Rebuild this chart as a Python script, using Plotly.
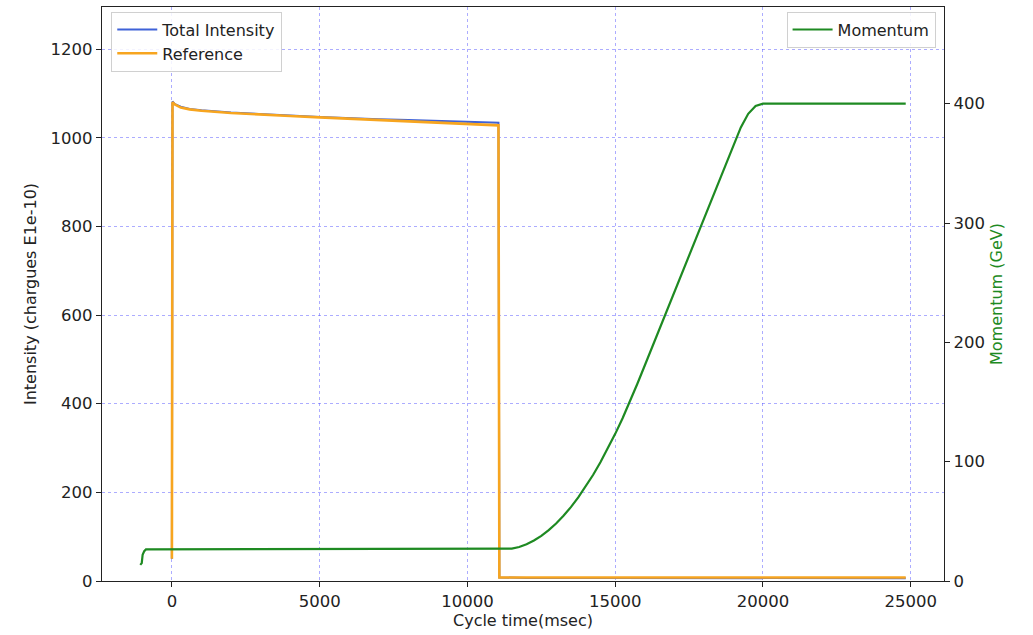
import plotly.graph_objects as go

# Beam intensity over the cycle (charges E1e-10)
total_t = [0, 20, 100, 300, 600, 1000, 2000, 3000, 4000, 5000, 6000, 7000,
           8000, 9000, 10000, 11000, 11050, 11080, 12000, 15000, 20000, 24830]
total_i = [50, 1082, 1076, 1070, 1065, 1062, 1057, 1053, 1050, 1047, 1044, 1042,
           1040, 1038, 1036, 1035, 1034, 8, 7, 7, 7, 6]

ref_t = [0, 20, 100, 300, 600, 1000, 2000, 3000, 4000, 5000, 6000, 7000,
         8000, 9000, 10000, 11000, 11050, 11080, 12000, 15000, 20000, 24830]
ref_i = [50, 1080, 1075, 1068, 1064, 1061, 1056, 1052, 1049, 1046, 1043, 1040,
         1037, 1034, 1031, 1029, 1028, 8, 8, 8, 8, 8]

# Beam momentum (GeV)
mom_t = [-1070, -1020, -990, -936, -878, 0, 5000, 10000, 11000, 11250, 11500,
         11750, 12000, 12250, 12500, 12750, 13000, 13250, 13500, 13750, 14000,
         14250, 14500, 14750, 15000, 15250, 15500, 15750, 16000, 16250, 16500,
         16750, 17000, 17250, 17500, 17750, 18000, 18250, 18500, 18750, 19000,
         19250, 19500, 19750, 20000, 22000, 24830]
mom_p = [13.5, 15, 22, 25, 26.5, 26.5, 26.5, 26.5, 26.5, 26.5, 27.1,
         28.5, 30.8, 33.9, 37.8, 42.6, 48.2, 54.7, 61.9, 70.1, 79.0,
         88.8, 99.5, 110.9, 123.3, 136.4, 150.4, 165.3, 180.6, 196.0, 211.4,
         226.7, 242.1, 257.4, 272.8, 288.2, 303.5, 318.9, 334.2, 349.6, 365.0,
         380.1, 391.5, 398.1, 400, 400, 400]

x_ticks = [0, 5000, 10000, 15000, 20000, 25000]
x_labels = ["0", "5000", "10000", "15000", "20000", "25000"]
left_ticks = [0, 200, 400, 600, 800, 1000, 1200]
right_ticks = [0, 100, 200, 300, 400]

FONT = "DejaVu Sans"
TICK_SIZE = 16.5
LABEL_SIZE = 16
INK = "#222"
GREEN = "#1e8a22"
GRID = "rgba(70,70,255,0.45)"

fig = go.Figure()
fig.add_trace(go.Scatter(x=total_t, y=total_i, mode="lines", name="Total Intensity",
                         line=dict(color="#3f62d8", width=2), legend="legend",
                         legendgroup="total"))
fig.add_trace(go.Scatter(x=ref_t, y=ref_i, mode="lines", name="Reference",
                         line=dict(color="#f7a51f", width=2.6), legend="legend",
                         legendgroup="ref"))
fig.add_trace(go.Scatter(x=mom_t, y=mom_p, mode="lines", name="Momentum",
                         line=dict(color=GREEN, width=2.2), yaxis="y2",
                         legend="legend2"))

axis_common = dict(showline=True, linecolor=INK, linewidth=1.2,
                   ticks="outside", ticklen=5, tickcolor=INK,
                   tickfont=dict(family=FONT, size=TICK_SIZE, color=INK),
                   zeroline=False)

fig.update_layout(
    width=1033, height=635,
    margin=dict(l=102, r=89, t=7, b=54),
    paper_bgcolor="white", plot_bgcolor="white",
    font=dict(family=FONT, size=LABEL_SIZE, color=INK),
    xaxis=dict(range=[-2365, 26125], tickvals=x_ticks, ticktext=x_labels, mirror=True,
               showgrid=True, gridcolor=GRID, griddash="dot", gridwidth=1,
               title=dict(text="Cycle time(msec)", standoff=4,
                          font=dict(family=FONT, size=LABEL_SIZE, color=INK)),
               **axis_common),
    yaxis=dict(range=[0, 1295], tickvals=left_ticks,
               showgrid=True, gridcolor=GRID, griddash="dot", gridwidth=1,
               title=dict(text="Intensity (chargues E1e-10)", standoff=9,
                          font=dict(family=FONT, size=LABEL_SIZE, color=INK)),
               **axis_common),
    yaxis2=dict(range=[0, 481], tickvals=right_ticks, overlaying="y", side="right",
                showgrid=False,
                title=dict(text="Momentum (GeV)", standoff=6,
                           font=dict(family=FONT, size=LABEL_SIZE, color=GREEN)),
                **axis_common),
    legend=dict(x=0.011, y=0.992, xanchor="left", yanchor="top",
                bgcolor="rgba(255,255,255,0.85)", bordercolor="#d0d0d0",
                borderwidth=1, itemwidth=40, traceorder="grouped",
                tracegroupgap=0,
                font=dict(family=FONT, size=LABEL_SIZE, color=INK)),
    legend2=dict(x=0.99, y=0.992, xanchor="right", yanchor="top",
                 bgcolor="rgba(255,255,255,0.85)", bordercolor="#d0d0d0",
                 borderwidth=1, itemwidth=40,
                 font=dict(family=FONT, size=LABEL_SIZE, color=INK)),
    showlegend=True,
)

fig.write_html("out.html")
